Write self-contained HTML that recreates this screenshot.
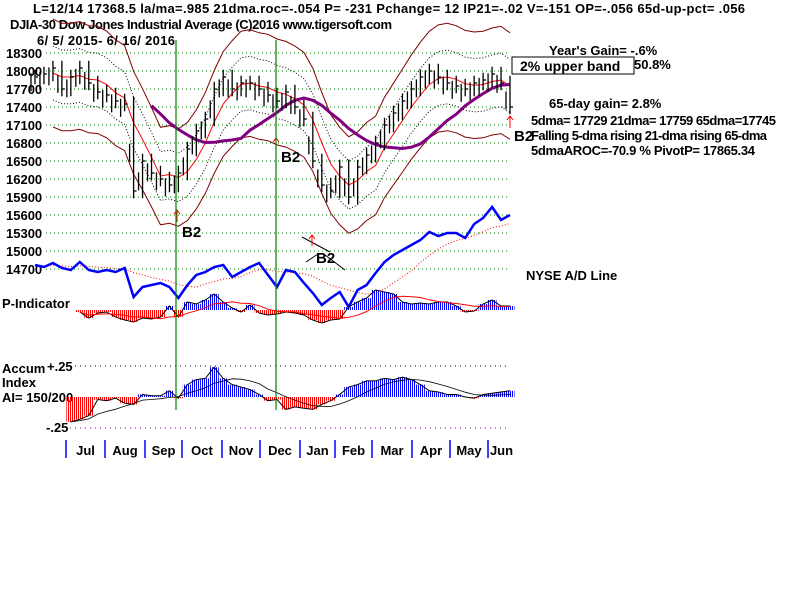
<!DOCTYPE html>
<html><head><meta charset="utf-8"><style>
body{margin:0;background:#fff;width:800px;height:600px;overflow:hidden}
svg{display:block;font-family:"Liberation Sans",Arial,sans-serif;font-weight:bold}
</style></head><body>
<svg id="c" width="800" height="600" viewBox="0 0 800 600">
<defs>
<pattern id="pb" width="2" height="4" patternUnits="userSpaceOnUse"><rect width="1" height="4" fill="#0000ff"/></pattern>
<pattern id="pr" width="2" height="4" patternUnits="userSpaceOnUse"><rect width="1" height="4" fill="#ff0000"/></pattern>
</defs>
<g font-size="13" fill="#000">
<text x="33" y="13" textLength="712">L=12/14   17368.5  la/ma=.985 21dma.roc=-.054 P= -231 Pchange=  12 IP21=-.02 V=-151 OP=-.056 65d-up-pct= .056</text>
<text x="10" y="29" textLength="382">DJIA-30  Dow Jones Industrial Average   (C)2016 www.tigersoft.com</text>
<text x="37" y="45" textLength="138">6/ 5/ 2015- 6/ 16/ 2016</text>
<text x="549" y="55">Year's Gain= -.6%</text>
<text x="634" y="69">50.8%</text>
<text x="549" y="108">65-day gain= 2.8%</text>
<text x="531" y="125" textLength="245">5dma= 17729 21dma= 17759 65dma=17745</text>
<text x="531" y="140" textLength="236">Falling 5-dma  rising 21-dma  rising 65-dma</text>
<text x="531" y="155" textLength="224">5dmaAROC=-70.9 %  PivotP= 17865.34</text>
<text x="526" y="280">NYSE A/D Line</text>
<text x="2" y="308">P-Indicator</text>
<text x="2" y="373">Accum</text>
<text x="47" y="371">+.25</text>
<text x="2" y="387">Index</text>
<text x="2" y="402">AI= 150/200</text>
<text x="46" y="432">-.25</text>
</g>
<rect x="512" y="57" width="122" height="17" fill="#fff" stroke="#000"/>
<text x="520" y="71" font-size="14">2% upper band</text>
<g id="grid"></g><g id="main"></g><g id="axis"></g>
<g font-size="15" fill="#000">
<text x="182" y="237">B2</text>
<text x="281" y="162">B2</text>
<text x="316" y="263">B2</text>
<text x="514" y="141">B2</text>
</g>
<g stroke="#000" stroke-width="1"><line x1="302" y1="237" x2="330" y2="252"/><line x1="325" y1="255" x2="345" y2="270"/><line x1="306" y1="262" x2="318" y2="254"/></g>
<g stroke="#f00" fill="none" stroke-width="1">
<path d="M177 222V210M174 214L177 210L180 214"/><path d="M276 150V138M273 142L276 138L279 142"/>
<path d="M312 246V235M309 239L312 235L315 239"/><path d="M510 128V116M507 120L510 116L513 120"/>
</g>
<g stroke="#008000" stroke-width="1.2"><line x1="176" y1="40" x2="176" y2="410"/><line x1="276" y1="40" x2="276" y2="410"/></g>
</svg>
<script>
const closes=[17900,17950,18050,17700,17900,18050,17800,17650,17600,17500,17450,16000,16500,16300,16200,16100,16300,16700,17000,17200,17700,17900,17700,17800,17800,17700,17600,17500,17650,17400,17200,16500,16100,16000,16400,15900,16400,16600,16800,17100,17300,17500,17700,17900,18000,17900,17800,17750,17700,17800,17850,17950,17800,17400];
const adLine=[35,33,37,32,30,38,30,28,30,28,32,3,13,15,17,13,2,15,25,28,33,35,23,28,33,37,25,13,30,28,17,7,-5,2,8,-7,10,15,27,38,45,50,55,60,68,64,67,67,62,76,82,93,80,85];
const pInd=[null,null,null,null,null,-2,-8,-3,-2,-7,-10,-12,-8,-9,-7,4,-7,8,6,10,16,8,2,-2,5,-3,-5,-4,-2,-3,-5,-10,-13,-10,-9,3,8,12,20,18,16,8,6,7,6,8,8,4,-2,-1,6,10,4,4];
const accum=[null,null,null,null,-0.2,-0.18,-0.15,-0.02,-0.03,-0.01,-0.05,-0.06,0.02,0.01,0.01,0.05,-0.01,0.1,0.14,0.15,0.24,0.15,0.1,0.08,0.06,0.02,-0.03,-0.02,-0.1,-0.08,-0.09,-0.1,-0.06,-0.03,0.02,0.08,0.1,0.13,0.13,0.15,0.14,0.16,0.14,0.1,0.05,0.04,0.02,0.02,0,-0.01,0.02,0.03,0.04,0.05];
const priceTicks=[18300,18000,17700,17400,17100,16800,16500,16200,15900,15600,15300,15000,14700];
const months=["Jul","Aug","Sep","Oct","Nov","Dec","Jan","Feb","Mar","Apr","May","Jun"];
const monthStart=[66,105,145,182,222,260,300,335,372,412,450,488];
const NS="http://www.w3.org/2000/svg";
const N=closes.length;
const X=i=>35+i*(475/(N-1));
const Y=v=>53+(18300-v)*0.06;
const AY=v=>300-v;
const PY=v=>310-v;
const IY=v=>397-v*124;
function mk(t,a,p){const e=document.createElementNS(NS,t);for(const k in a)e.setAttribute(k,a[k]);(p||document.getElementById('main')).appendChild(e);return e;}
const grid=document.getElementById('grid');
priceTicks.forEach(v=>{
 const l=mk('line',{x1:46,x2:510,y1:Y(v),y2:Y(v),stroke:'#008000','stroke-dasharray':'1,3'},grid);
 
 
 const t=mk('text',{x:6,y:Y(v)+5,'font-size':13},grid);t.textContent=v;
 
 
});
[0.25,-0.25].forEach(v=>{mk('line',{x1:70,x2:510,y1:IY(v),y2:IY(v),stroke:v>0?'#000':'#800080','stroke-dasharray':'1,4'},grid);});
function ma(arr,w){return arr.map((_,i)=>{let s=0,c=0;for(let j=Math.max(0,i-w+1);j<=i;j++)if(arr[j]!=null){s+=arr[j];c++;}return c?s/c:null;});}
function path(arr,f,start){let d='';arr.forEach((v,i)=>{if(i<start||v==null)return;d+=(d?'L':'M')+X(i).toFixed(1)+' '+f(v).toFixed(1);});return d;}
const m21=ma(closes,4),m65=ma(closes,13);
[[1.05,'#800000','none'],[1.025,'#000','1,2'],[0.975,'#000','1,2'],[0.95,'#800000','none']].forEach(b=>{
 const p=mk('path',{d:path(m21.map(v=>v*b[0]),Y,2),fill:'none',stroke:b[1],'stroke-dasharray':b[2]});
 
 
});
const r21=mk('path',{d:path(m21,Y,2),fill:'none',stroke:'#f00'});


const p65=mk('path',{d:path(m65,Y,13),fill:'none',stroke:'#800080','stroke-width':3});


closes.forEach((c,i)=>{
 const prev=i?closes[i-1]:c;const hi=Math.max(prev,c)+120,lo=Math.min(prev,c)-120;
 const b=mk('path',{d:`M${X(i)} ${Y(hi)}V${Y(lo)}M${X(i)} ${Y(c)}h3M${X(i)-4} ${Y((prev+c)/2+60)}v18`,stroke:'#000','stroke-width':1.3});
 
 
});
const adm=mk('path',{d:path(ma(adLine,8),AY,1),fill:'none',stroke:'#f00','stroke-dasharray':'1,2'});


const ad=mk('path',{d:path(adLine,AY,0),fill:'none',stroke:'#0000ff','stroke-width':2.5});


const w=475/(N-1);
pInd.forEach((v,i)=>{if(v==null)return;
 const r=mk('rect',{x:X(i)-w/2,y:Math.min(PY(v),310),width:w,height:Math.abs(v),fill:v>=0?'url(#pb)':'url(#pr)'});
 
 
});
mk('path',{d:path(pInd,PY,5),fill:'none',stroke:'#000'});
mk('path',{d:path(ma(pInd,6),PY,5),fill:'none',stroke:'#f00'});
accum.forEach((v,i)=>{if(v==null)return;
 const r=mk('rect',{x:X(i)-w/2,y:Math.min(IY(v),397),width:w,height:Math.abs(v*124),fill:v>=0?'url(#pb)':'url(#pr)'});
 
 
});
mk('path',{d:path(accum,IY,4),fill:'none',stroke:'#000'});
mk('path',{d:path(ma(accum,6),IY,4),fill:'none',stroke:'#000','stroke-width':0.8});
const ax=document.getElementById('axis');
months.forEach((m,i)=>{
 mk('line',{x1:monthStart[i],x2:monthStart[i],y1:440,y2:458,stroke:'#0000ff','stroke-width':1.5},ax);
 const next=i<months.length-1?monthStart[i+1]:515;
 const t=mk('text',{x:(monthStart[i]+next)/2,y:455,'font-size':13,'text-anchor':'middle'},ax);t.textContent=m;
 
 
});
</script>
</body></html>
